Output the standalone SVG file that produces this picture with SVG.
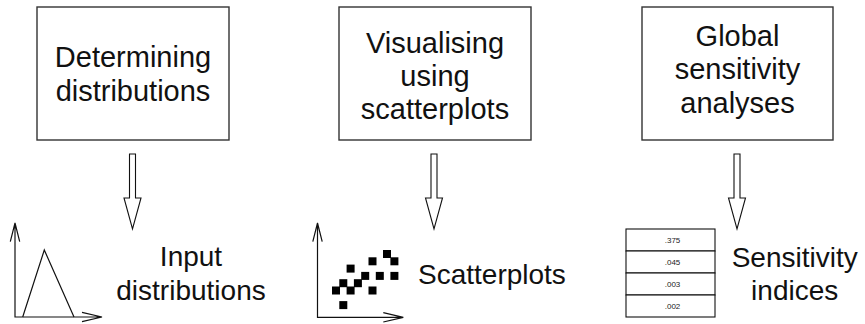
<svg xmlns="http://www.w3.org/2000/svg" width="865" height="324" viewBox="0 0 865 324">
<style>
.box{fill:#fff;stroke:#333;stroke-width:1.4}
.lbl{font-family:"Liberation Sans",Arial,Helvetica,sans-serif;font-size:28px;fill:#111;text-anchor:middle}
.blbl{font-family:"Liberation Sans",Arial,Helvetica,sans-serif;font-size:29px;fill:#111;text-anchor:middle}
.arr{fill:#fff;stroke:#111;stroke-width:1.1;stroke-linejoin:miter}
.ax{fill:none;stroke:#111;stroke-width:1.2}
.sq{fill:#000}
.cell{fill:#fff;stroke:#111;stroke-width:1.1}
.num{font-family:"Liberation Sans",Arial,sans-serif;font-size:8px;fill:#222;text-anchor:middle}
</style>
<rect width="865" height="324" fill="#fff"/>
<g id="node-determining">
<rect class="box" x="37" y="7" width="192" height="133"/>
<text class="blbl" x="133" y="66.7">Determining</text>
<text class="blbl" x="133" y="101.3">distributions</text>
</g>
<g id="node-visualising">
<rect class="box" x="339" y="7" width="192" height="133"/>
<text class="blbl" x="435" y="53">Visualising</text>
<text class="blbl" x="435" y="86">using</text>
<text class="blbl" x="435" y="119">scatterplots</text>
</g>
<g id="node-global">
<rect class="box" x="642" y="7" width="191" height="133"/>
<text class="blbl" x="737.5" y="45.5">Global</text>
<text class="blbl" x="737.5" y="79">sensitivity</text>
<text class="blbl" x="737.5" y="112.5">analyses</text>
</g>
<g id="connectors">
<path class="arr" d="M129.5,154 H135.5 V198 H141 L132.5,229 L124,198 H129.5 Z"/>
<path class="arr" d="M431,154 H437 V198 H442.5 L434,229 L425.5,198 H431 Z"/>
<path class="arr" d="M734,154 H740 V198 H745.5 L737,229 L728.5,198 H734 Z"/>
</g>
<g id="node-input-distributions">
<path class="ax" d="M15,223 V317 H102 M10.3,241.7 L15,223 L19.7,241.7 M82,312.3 L102,317 L82,321.7"/>
<path class="ax" d="M22.7,317 L44.3,250 L74,317"/>
<text class="lbl" x="191" y="265.5">Input</text>
<text class="lbl" x="191" y="300">distributions</text>
</g>
<g id="node-scatterplots">
<path class="ax" d="M317.5,223 V317.3 H403.3 M312.8,241.7 L317.5,223 L322.2,241.7 M383.3,312.6 L403.3,317.3 L383.3,322"/>
<rect class="sq" x="383" y="250" width="8" height="8"/>
<rect class="sq" x="390.4" y="257.3" width="8" height="8"/>
<rect class="sq" x="368.5" y="257.3" width="8" height="8"/>
<rect class="sq" x="346.6" y="264.6" width="8" height="8"/>
<rect class="sq" x="361.2" y="271.9" width="8" height="8"/>
<rect class="sq" x="375.8" y="271.9" width="8" height="8"/>
<rect class="sq" x="390.4" y="271.9" width="8" height="8"/>
<rect class="sq" x="339.3" y="279.2" width="8" height="8"/>
<rect class="sq" x="353.9" y="279.2" width="8" height="8"/>
<rect class="sq" x="332" y="286.5" width="8" height="8"/>
<rect class="sq" x="346.6" y="286.5" width="8" height="8"/>
<rect class="sq" x="368.5" y="286.5" width="8" height="8"/>
<rect class="sq" x="339.3" y="301.1" width="8" height="8"/>
<text class="lbl" x="418" y="283.5" style="text-anchor:start">Scatterplots</text>
</g>
<g id="node-sensitivity-indices">
<rect class="cell" x="626" y="229" width="89" height="22"/>
<rect class="cell" x="626" y="251" width="89" height="22"/>
<rect class="cell" x="626" y="273" width="89" height="22"/>
<rect class="cell" x="626" y="295" width="89" height="22"/>
<text class="num" x="672.5" y="242.7">.375</text>
<text class="num" x="672.5" y="264.7">.045</text>
<text class="num" x="672.5" y="286.7">.003</text>
<text class="num" x="672.5" y="308.7">.002</text>
<text class="lbl" x="794.7" y="266.5">Sensitivity</text>
<text class="lbl" x="794.7" y="300">indices</text>
</g>
</svg>
